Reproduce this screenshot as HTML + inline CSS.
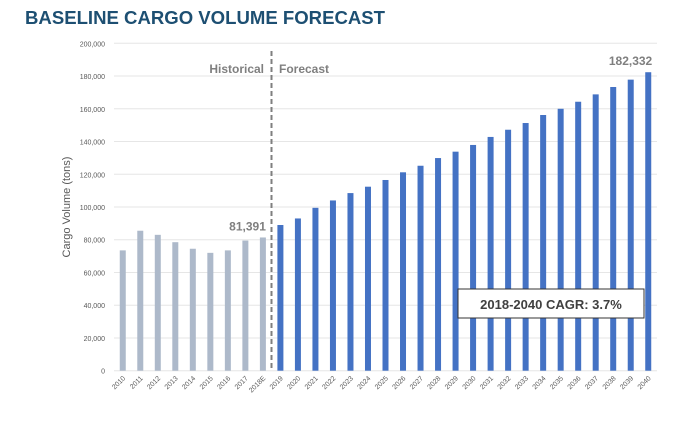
<!DOCTYPE html>
<html><head><meta charset="utf-8"><style>
body{margin:0;background:#fff;width:691px;height:420px;overflow:hidden;font-family:"Liberation Sans",sans-serif}
</style></head><body>
<svg width="691" height="420">
<text x="25" y="24" font-size="18" font-weight="bold" fill="#1d4f72" textLength="360" lengthAdjust="spacingAndGlyphs">BASELINE CARGO VOLUME FORECAST</text>
<g id="grid"></g><g id="bars"></g><g id="xl"></g>
<text transform="translate(70,207) rotate(-90)" text-anchor="middle" font-size="11" fill="#595959">Cargo Volume (tons)</text>
<line x1="271.5" y1="51" x2="271.5" y2="371" stroke="#7f7f7f" stroke-width="2" stroke-dasharray="5,3"/>
<text x="264" y="73" text-anchor="end" font-size="12" font-weight="bold" fill="#7f7f7f">Historical</text>
<text x="279" y="73" font-size="12" font-weight="bold" fill="#7f7f7f">Forecast</text>
<rect x="458" y="289" width="186" height="29" fill="#fff" stroke="#333" stroke-width="1"/>
<text x="551" y="309" text-anchor="middle" font-size="13" font-weight="bold" fill="#404040">2018-2040 CAGR: 3.7%</text>
</svg>
<script>
const categories=["2010","2011","2012","2013","2014","2015","2016","2017","2018E","2019","2020","2021","2022","2023","2024","2025","2026","2027","2028","2029","2030","2031","2032","2033","2034","2035","2036","2037","2038","2039","2040"];
const values=[73500,85500,83000,78500,74500,72000,73500,79500,81391,89000,93000,99500,104000,108500,112400,116500,121200,125200,129900,133800,137900,142800,147200,151300,156200,160000,164300,168800,173300,177800,182332];
const historicalCount=9;
const yTicks=[0,20000,40000,60000,80000,100000,120000,140000,160000,180000,200000];
const NS="http://www.w3.org/2000/svg";
const x0=114,x1=657,yb=370.7,yt=43.3,ymax=200000;
const step=(x1-x0)/categories.length;
const ys=v=>yb-(v/ymax)*(yb-yt);
const xs=i=>x0+step*(i+0.5);
function mk(t,a,p){const e=document.createElementNS(NS,t);for(const k in a)e.setAttribute(k,a[k]);p.appendChild(e);return e;}
const g=document.getElementById('grid'),b=document.getElementById('bars'),xl=document.getElementById('xl');
yTicks.forEach(t=>{
 const l=mk('line',{x1:x0,x2:x1,y1:ys(t),y2:ys(t),stroke:'#e6e6e6','stroke-width':1},g);
 
 
 const tx=mk('text',{x:105,y:ys(t)+3,'text-anchor':'end','font-size':7,fill:'#595959'},g);
 tx.textContent=t.toLocaleString('en-US');
 
 
});
values.forEach((v,i)=>{
 const r=mk('rect',{x:xs(i)-3,y:ys(v),width:6,height:yb-ys(v),fill:i<historicalCount?'#adb9ca':'#4472c4'},b);
 
 
 const t=mk('text',{'font-size':7,fill:'#595959','text-anchor':'end',transform:`translate(${xs(i)+3},${yb+8}) rotate(-45)`},xl);
 t.textContent=categories[i];
 
 
});
const li=historicalCount-1,la=values.length-1;
const d1=mk('text',{x:xs(li)+3,y:ys(values[li])-7,'text-anchor':'end','font-size':12,'font-weight':'bold',fill:'#7f7f7f'},b);
d1.textContent=values[li].toLocaleString('en-US');


const d2=mk('text',{x:xs(la)+4,y:ys(values[la])-7,'text-anchor':'end','font-size':12,'font-weight':'bold',fill:'#7f7f7f'},b);
d2.textContent=values[la].toLocaleString('en-US');


</script>
</body></html>
